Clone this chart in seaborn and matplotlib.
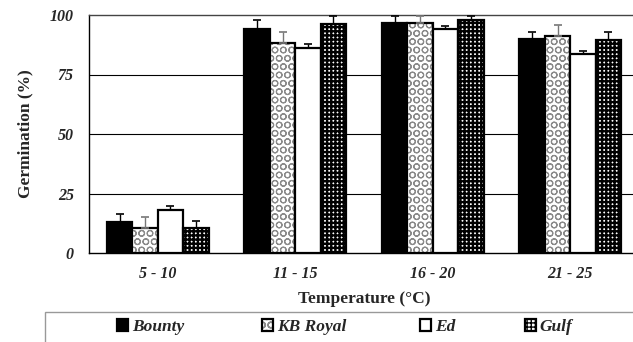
import numpy as np
import pandas as pd
import matplotlib
matplotlib.use("Agg")
import matplotlib.pyplot as plt
import seaborn as sns

# data
temps = ["5 - 10", "11 - 15", "16 - 20", "21 - 25"]
cultivars = ["Bounty", "KB Royal", "Ed", "Gulf"]
bounty = [13.1, 94.2, 96.8, 89.9]
kb_royal = [10.4, 88.2, 96.8, 91.2]
ed = [18.0, 86.3, 94.2, 83.7]
gulf = [10.4, 96.2, 97.8, 89.6]
bounty_err = [3.4, 3.6, 2.9, 3.0]
kb_royal_err = [4.6, 4.8, 2.9, 4.5]
ed_err = [1.6, 1.4, 1.3, 1.0]
gulf_err = [3.2, 3.5, 1.9, 3.3]

df = pd.DataFrame({
    "Temperature": temps * 4,
    "Cultivar": np.repeat(cultivars, 4),
    "Germination": bounty + kb_royal + ed + gulf,
})
errs = [bounty_err, kb_royal_err, ed_err, gulf_err]

sns.set_style("white")
plt.rcParams["font.family"] = ["Liberation Serif", "DejaVu Serif"]
plt.rcParams["hatch.linewidth"] = 1.0

fig = plt.figure(figsize=(6.33, 3.42), dpi=100)
ax = fig.add_axes([89 / 633, 1 - 253 / 342, 550 / 633, 238 / 342])

faces = ["black", "white", "white", "white"]
hatches = [None, "OO", None, "++++"]
hatch_cols = ["black", "#8a8a8a", "black", "black"]
hatch_lw = [1.0, 0.8, 1.0, 1.7]
err_cols = ["black", "#777777", "black", "black"]

sns.barplot(data=df, x="Temperature", y="Germination", hue="Cultivar",
            order=temps, hue_order=cultivars, width=0.74, errorbar=None,
            palette=dict(zip(cultivars, faces)), edgecolor="black",
            linewidth=1.6, saturation=1, ax=ax, legend=False)


def style_patch(p, i):
    p.set_facecolor(faces[i])
    p.set_edgecolor("black")
    if hatches[i]:
        p.set_hatch(hatches[i])
        p._hatch_color = matplotlib.colors.to_rgba(hatch_cols[i])
        try:
            p.set_hatch_linewidth(hatch_lw[i])
        except AttributeError:
            pass


for i, cont in enumerate(list(ax.containers)):
    xs, ys = [], []
    for p in cont.patches:
        style_patch(p, i)
        xs.append(p.get_x() + p.get_width() / 2)
        ys.append(p.get_height())
    ax.errorbar(xs, ys, yerr=[np.zeros(len(ys)), errs[i]], fmt="none",
                ecolor=err_cols[i], elinewidth=1, capsize=3, capthick=1.2,
                zorder=3)

ax.set_ylim(0, 100)
ax.set_xlim(-0.5, 3.5)
ax.set_yticks([0, 25, 50, 75, 100])
ax.set_yticklabels(["0", "25", "50", "75", "100"], fontsize=11.5,
                   fontweight="bold", fontstyle="italic")
ax.set_xticklabels(temps, fontsize=11.5, fontweight="bold", fontstyle="italic")
ax.set_xticks([0.5, 1.5, 2.5], minor=True)
ax.tick_params(axis="x", which="major", length=0, pad=9)
ax.tick_params(axis="x", which="minor", length=4, width=0.8, color="black",
               direction="out")
ax.tick_params(axis="y", length=0, pad=11)
for y in [25, 50, 75]:
    ax.axhline(y, color="black", linewidth=0.8, zorder=0)
for s in ["left", "bottom", "top"]:
    ax.spines[s].set_color("black")
    ax.spines[s].set_linewidth(1)
ax.spines["top"].set_color("#444444")
ax.spines["right"].set_visible(False)

ax.set_xlabel("Temperature (°C)", fontsize=12.5, fontweight="bold", labelpad=7)
ax.set_ylabel("Germination (%)", fontsize=12.5, fontweight="bold", labelpad=12)

# legend entries placed one by one, as in the reference box
legend_x = [117, 262, 420, 525]
for i, c in enumerate(cultivars):
    h = matplotlib.patches.Patch(facecolor=faces[i], edgecolor="black",
                                 linewidth=1.6, label=c)
    style_patch(h, i)
    fig.legend(handles=[h], loc="center left",
               bbox_to_anchor=(legend_x[i] / 633, 1 - 327 / 342),
               frameon=False, handlelength=0.65, handleheight=0.65,
               handletextpad=0.2, borderaxespad=0, borderpad=0,
               prop={"size": 12.5, "weight": "bold", "style": "italic"})
frame = matplotlib.patches.Rectangle((45 / 633, -0.1), 0.95, 1 - 312 / 342 + 0.1,
                                     transform=fig.transFigure, fill=False,
                                     edgecolor="#999999", linewidth=1)
fig.add_artist(frame)

fig.savefig("out.png", dpi=100)
